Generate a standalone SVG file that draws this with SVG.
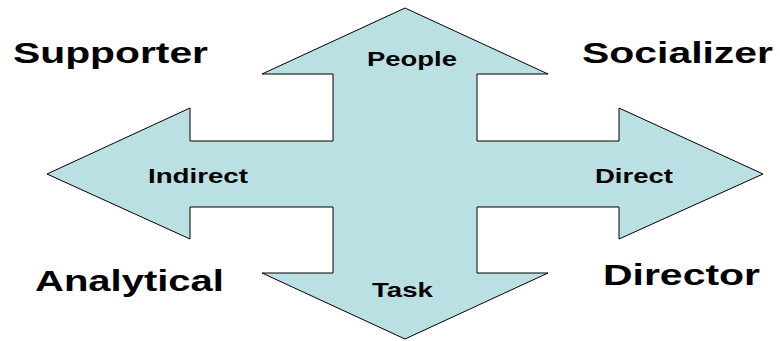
<svg xmlns="http://www.w3.org/2000/svg" width="780" height="341" viewBox="0 0 780 341">
<style>
.arrow{fill:#bbe0e3;stroke:#000;stroke-width:1;stroke-linejoin:miter}
.small{font-family:"Liberation Sans",Arial,sans-serif;font-weight:bold;font-size:20px;fill:#000}
.big{font-family:"Liberation Sans",Arial,sans-serif;font-weight:bold;font-size:30px;fill:#000}
</style>
<rect width="780" height="341" fill="#fff"/>
<g id="connectors">
<path id="cross-arrow" class="arrow" d="M405,8 L548,74 L477,74 L477,141 L619,141 L619,108 L763,174 L619,239 L619,207 L477,207 L477,273 L548,273 L405,339 L262,273 L333,273 L333,207 L190,207 L190,239 L47,174 L190,108 L190,141 L333,141 L333,74 L262,74 Z"/>
</g>
<g id="people"><text class="small" x="367" y="66" textLength="90" lengthAdjust="spacingAndGlyphs">People</text></g>
<g id="indirect"><text class="small" x="148" y="183" textLength="100" lengthAdjust="spacingAndGlyphs">Indirect</text></g>
<g id="direct"><text class="small" x="595" y="183" textLength="78" lengthAdjust="spacingAndGlyphs">Direct</text></g>
<g id="task"><text class="small" x="372" y="297" textLength="61" lengthAdjust="spacingAndGlyphs">Task</text></g>
<g id="supporter"><text class="big" x="13" y="63" textLength="195" lengthAdjust="spacingAndGlyphs">Supporter</text></g>
<g id="socializer"><text class="big" x="582" y="63" textLength="191" lengthAdjust="spacingAndGlyphs">Socializer</text></g>
<g id="analytical"><text class="big" x="35" y="291" textLength="189" lengthAdjust="spacingAndGlyphs">Analytical</text></g>
<g id="director"><text class="big" x="603" y="285" textLength="157" lengthAdjust="spacingAndGlyphs">Director</text></g>
</svg>
